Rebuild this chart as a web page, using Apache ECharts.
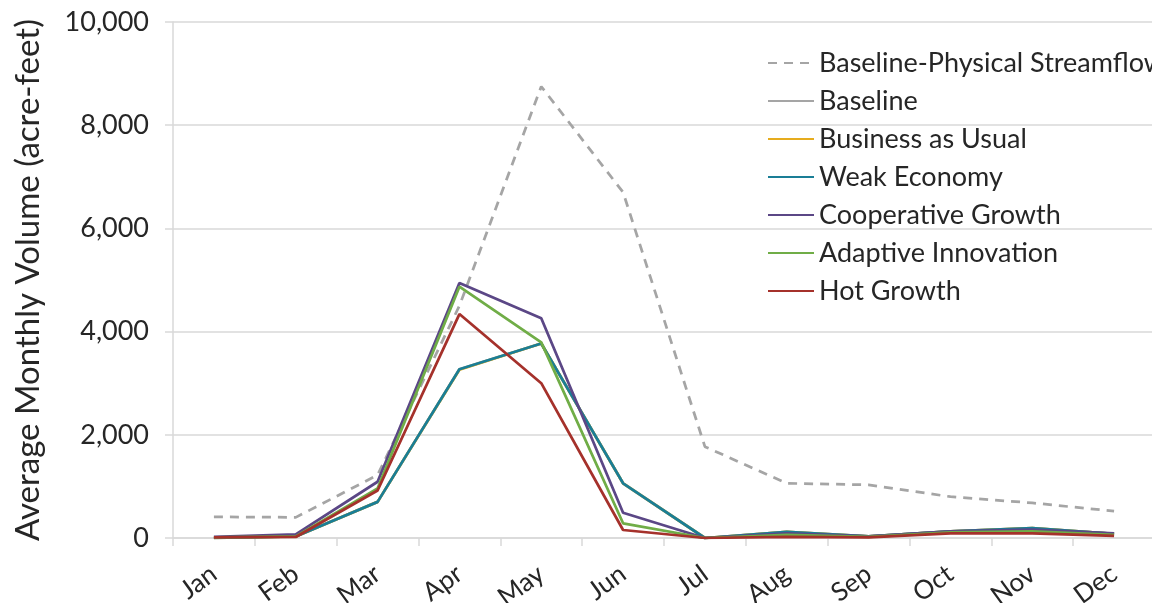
<!DOCTYPE html>
<html>
<head>
<meta charset="utf-8">
<script src="https://cdn.jsdelivr.net/npm/echarts@6/dist/echarts.min.js"></script>
<style>
  html, body { margin: 0; padding: 0; background: #ffffff; }
  #chart { width: 1152px; height: 603px; }
</style>
</head>
<body>
<div id="chart"></div>
<script>
// Monthly volumes (acre-feet) by scenario
const months = ['Jan', 'Feb', 'Mar', 'Apr', 'May', 'Jun', 'Jul', 'Aug', 'Sep', 'Oct', 'Nov', 'Dec'];
const yTicks = [0, 2000, 4000, 6000, 8000, 10000];

const physicalStreamflow = [410, 400, 1220, 4500, 8750, 6700, 1770, 1060, 1030, 800, 680, 520];
const baseline           = [0, 30, 700, 3270, 3770, 1060, 0, 120, 30, 130, 190, 80];
const businessAsUsual    = [0, 30, 700, 3260, 3770, 1060, 0, 120, 30, 130, 190, 80];
const weakEconomy        = [0, 30, 700, 3270, 3770, 1060, 0, 120, 30, 130, 190, 80];
const cooperativeGrowth  = [20, 70, 1090, 4940, 4260, 490, 0, 90, 30, 130, 160, 90];
const adaptiveInnovation = [10, 30, 960, 4870, 3790, 285, 0, 60, 20, 110, 130, 60];
const hotGrowth          = [10, 20, 920, 4340, 3000, 155, 0, 20, 10, 90, 90, 40];

const font = 'Lato, "Open Sans", sans-serif';
const textColor = '#262626';

function lineSeries(name, data, color, dashed) {
  return {
    name: name,
    type: 'line',
    data: data,
    symbol: 'none',
    smooth: false,
    lineStyle: { color: color, width: 2.75, type: dashed ? [9, 7] : 'solid' },
    itemStyle: { color: color }
  };
}

const chart = echarts.init(document.getElementById('chart'), null, { renderer: 'canvas' });
chart.setOption({
  animation: false,
  backgroundColor: '#ffffff',
  grid: { left: 173, top: 22, width: 982, bottom: 65, containLabel: false, outerBoundsMode: 'none' },
  legend: {
    orient: 'vertical',
    left: 762,
    top: 43,
    itemWidth: 46,
    itemHeight: 14,
    itemGap: 8,
    itemStyle: { opacity: 0 },
    textStyle: { fontFamily: font, fontSize: 27, color: textColor, padding: [0, 0, 0, 0], lineHeight: 30 },
    data: ['Baseline-Physical Streamflow', 'Baseline', 'Business as Usual', 'Weak Economy',
           'Cooperative Growth', 'Adaptive Innovation', 'Hot Growth']
  },
  xAxis: {
    type: 'category',
    data: months,
    boundaryGap: true,
    axisLine: { lineStyle: { color: '#d9d9d9', width: 1.5 } },
    axisTick: { show: true, length: 8, lineStyle: { color: '#d9d9d9', width: 1.5 } },
    axisLabel: {
      rotate: 36,
      margin: 33,
      fontFamily: font,
      fontSize: 26,
      color: textColor
    }
  },
  yAxis: {
    type: 'value',
    min: yTicks[0],
    max: yTicks[yTicks.length - 1],
    interval: yTicks[1] - yTicks[0],
    name: 'Average Monthly Volume (acre-feet)',
    nameLocation: 'middle',
    nameGap: 128,
    nameTextStyle: { fontFamily: font, fontSize: 33, color: textColor },
    axisLine: { show: true, lineStyle: { color: '#d9d9d9', width: 1.5 } },
    axisTick: { show: true, length: 8, lineStyle: { color: '#d9d9d9', width: 1.5 } },
    splitLine: { lineStyle: { color: '#d9d9d9', width: 1.5 } },
    axisLabel: {
      margin: 24,
      fontFamily: font,
      fontSize: 27,
      color: textColor,
      formatter: v => v.toLocaleString('en-US')
    }
  },
  series: [
    lineSeries('Baseline-Physical Streamflow', physicalStreamflow, '#A5A5A5', true),
    lineSeries('Baseline', baseline, '#A5A5A5', false),
    lineSeries('Business as Usual', businessAsUsual, '#E6AC1E', false),
    lineSeries('Weak Economy', weakEconomy, '#1A7E96', false),
    lineSeries('Cooperative Growth', cooperativeGrowth, '#5B4786', false),
    lineSeries('Adaptive Innovation', adaptiveInnovation, '#70AD47', false),
    lineSeries('Hot Growth', hotGrowth, '#A5312B', false)
  ]
});
</script>
</body>
</html>
